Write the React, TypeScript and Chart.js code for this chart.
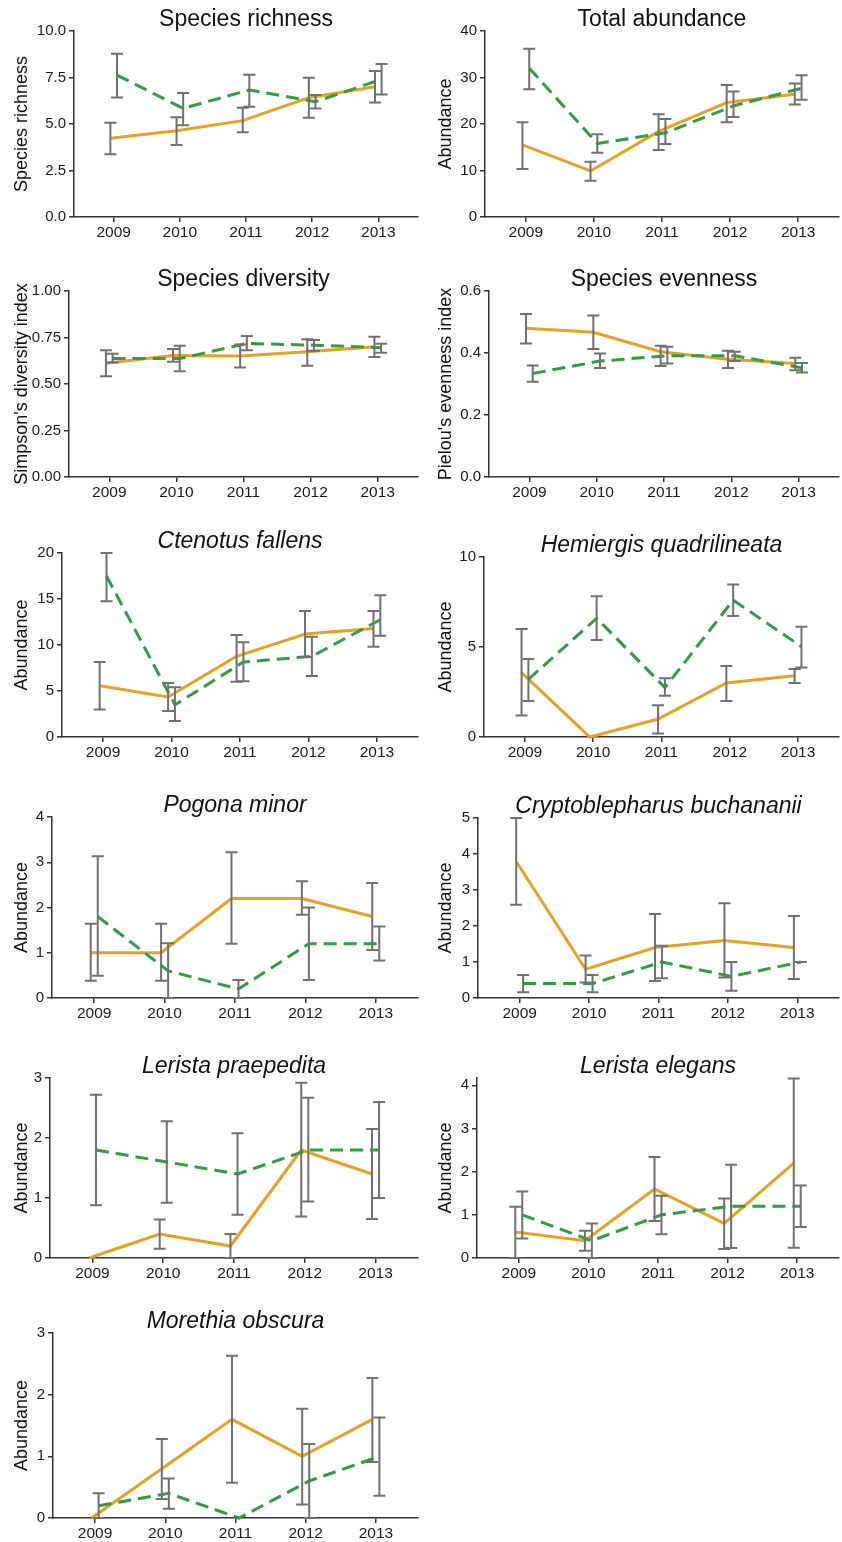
import React, { useEffect, useRef } from "react";
import { Chart, registerables } from "chart.js";

Chart.register(...registerables);
Chart.defaults.font.family = "'Liberation Sans', Arial, Helvetica, sans-serif";
Chart.defaults.color = "#1a1a1a";

// ---------------- DATA ----------------
const years = ["2009", "2010", "2011", "2012", "2013"];

// Species richness
const richnessOrange = [4.23, 4.64, 5.18, 6.42, 7.0];
const richnessOrangeLo = [3.37, 3.87, 4.55, 5.34, 6.16];
const richnessOrangeHi = [5.07, 5.36, 5.88, 7.49, 7.85];
const richnessGreen = [7.63, 5.84, 6.83, 6.2, 7.4];
const richnessGreenLo = [6.43, 4.93, 5.93, 5.84, 6.59];
const richnessGreenHi = [8.78, 6.67, 7.65, 6.56, 8.23];
const richnessTicks = [0, 2.5, 5, 7.5, 10];

// Total abundance
const abundOrange = [15.5, 9.9, 18.4, 24.6, 26.4];
const abundOrangeLo = [10.3, 7.8, 14.4, 20.4, 24.2];
const abundOrangeHi = [20.4, 11.9, 22.1, 28.4, 28.7];
const abundGreen = [32.0, 15.8, 18.1, 23.9, 27.7];
const abundGreenLo = [27.5, 13.8, 15.7, 21.5, 25.2];
const abundGreenHi = [36.2, 17.8, 21.1, 27.0, 30.5];
const abundTicks = [0, 10, 20, 30, 40];

// Species diversity
const divOrange = [0.612, 0.653, 0.65, 0.673, 0.7];
const divOrangeLo = [0.542, 0.619, 0.589, 0.598, 0.645];
const divOrangeHi = [0.682, 0.688, 0.713, 0.741, 0.754];
const divGreen = [0.637, 0.637, 0.718, 0.709, 0.695];
const divGreenLo = [0.616, 0.569, 0.682, 0.679, 0.668];
const divGreenHi = [0.662, 0.706, 0.758, 0.736, 0.716];
const divTicks = [0, 0.25, 0.5, 0.75, 1.0];

// Species evenness
const evenOrange = [0.48, 0.467, 0.404, 0.38, 0.366];
const evenOrangeLo = [0.431, 0.413, 0.358, 0.352, 0.344];
const evenOrangeHi = [0.526, 0.521, 0.423, 0.407, 0.385];
const evenGreen = [0.334, 0.374, 0.391, 0.391, 0.352];
const evenGreenLo = [0.307, 0.352, 0.366, 0.374, 0.337];
const evenGreenHi = [0.36, 0.398, 0.42, 0.404, 0.368];
const evenTicks = [0, 0.2, 0.4, 0.6];

// Ctenotus fallens
const ctenOrange = [5.58, 4.35, 8.77, 11.2, 11.8];
const ctenOrangeLo = [3.0, 2.83, 6.0, 8.7, 9.8];
const ctenOrangeHi = [8.15, 5.87, 11.1, 13.7, 13.7];
const ctenGreen = [17.5, 3.5, 8.15, 8.77, 12.75];
const ctenGreenLo = [14.75, 1.74, 6.05, 6.63, 11.0];
const ctenGreenHi = [20.0, 5.4, 10.3, 10.9, 15.4];
const ctenTicks = [0, 5, 10, 15, 20];

// Hemiergis quadrilineata
const hemiOrange = [3.58, 0, 1.0, 3.0, 3.4];
const hemiOrangeLo = [1.2, null, 0.2, 2.0, 3.0];
const hemiOrangeHi = [6.0, null, 1.77, 3.95, 3.78];
const hemiGreen = [3.2, 6.6, 2.75, 7.6, 5.02];
const hemiGreenLo = [2.0, 5.39, 2.29, 6.72, 3.86];
const hemiGreenHi = [4.34, 7.82, 3.27, 8.47, 6.13];
const hemiTicks = [0, 5, 10];

// Pogona minor
const pogOrange = [1.0, 1.0, 2.2, 2.2, 1.8];
const pogOrangeLo = [0.38, 0.38, 1.2, 1.84, 1.06];
const pogOrangeHi = [1.64, 1.64, 3.22, 2.58, 2.54];
const pogGreen = [1.8, 0.6, 0.2, 1.2, 1.2];
const pogGreenLo = [0.49, 0, 0, 0.4, 0.83];
const pogGreenHi = [3.13, 1.21, 0.4, 2.0, 1.58];
const pogTicks = [0, 1, 2, 3, 4];

// Cryptoblepharus buchananii
const cryOrange = [3.79, 0.8, 1.4, 1.6, 1.4];
const cryOrangeLo = [2.59, 0.43, 0.47, 0.57, 0.53];
const cryOrangeHi = [5.0, 1.18, 2.33, 2.63, 2.28];
const cryGreen = [0.4, 0.4, 1.0, 0.6, 1.0];
const cryGreenLo = [0.16, 0.16, 0.55, 0.2, 1.0];
const cryGreenHi = [0.64, 0.64, 1.45, 1.0, 1.0];
const cryTicks = [0, 1, 2, 3, 4, 5];

// Lerista praepedita
const lpOrange = [0, 0.4, 0.2, 1.8, 1.4];
const lpOrangeLo = [null, 0.155, 0, 0.69, 0.65];
const lpOrangeHi = [null, 0.64, 0.4, 2.92, 2.15];
const lpGreen = [1.8, 1.6, 1.4, 1.8, 1.8];
const lpGreenLo = [0.88, 0.92, 0.72, 0.94, 1.0];
const lpGreenHi = [2.72, 2.28, 2.08, 2.67, 2.6];
const lpTicks = [0, 1, 2, 3];

// Lerista elegans
const leOrange = [0.6, 0.4, 1.6, 0.8, 2.2];
const leOrangeLo = [0, 0.17, 0.86, 0.21, 0.24];
const leOrangeHi = [1.19, 0.63, 2.34, 1.38, 4.16];
const leGreen = [1.0, 0.4, 1.0, 1.2, 1.2];
const leGreenLo = [0.45, 0, 0.55, 0.23, 0.72];
const leGreenHi = [1.54, 0.8, 1.44, 2.16, 1.68];
const leTicks = [0, 1, 2, 3, 4];

// Morethia obscura
const moOrange = [0, 0.8, 1.6, 1.0, 1.6];
const moOrangeLo = [null, 0.31, 0.57, 0.22, 0.91];
const moOrangeHi = [null, 1.28, 2.63, 1.77, 2.27];
const moGreen = [0.2, 0.4, 0, 0.6, 1.0];
const moGreenLo = [0, 0.15, null, 0, 0.36];
const moGreenHi = [0.4, 0.64, null, 1.2, 1.63];
const moTicks = [0, 1, 2, 3];

// ---------------- STYLE / LAYOUT ----------------
const ORANGE = "#E8A020";
const GREEN = "#2E9E3E";
const ERR = "#707070";
const AXIS = "#333333";
const DODGE = 0.05;
const COL_W = 421;
const TOP_OFF = 31;
const BOTTOM_H = 24;
const TITLE_SIZE = 23;

type Panel = {
  title: string;
  italic: boolean;
  yTitle: string;
  ticks: number[];
  dec: number;
  yMax: number;
  o: (number | null)[];
  oLo: (number | null)[];
  oHi: (number | null)[];
  g: (number | null)[];
  gLo: (number | null)[];
  gHi: (number | null)[];
  col: number;
  axisLeft: number;
  axisTop: number;
  axisBottom: number;
};

const panels: Panel[] = [
  { title: "Species richness", italic: false, yTitle: "Species richness", ticks: richnessTicks, dec: 1, yMax: 10,
    o: richnessOrange, oLo: richnessOrangeLo, oHi: richnessOrangeHi, g: richnessGreen, gLo: richnessGreenLo, gHi: richnessGreenHi,
    col: 0, axisLeft: 74, axisTop: 31, axisBottom: 217 },
  { title: "Total abundance", italic: false, yTitle: "Abundance", ticks: abundTicks, dec: 0, yMax: 40,
    o: abundOrange, oLo: abundOrangeLo, oHi: abundOrangeHi, g: abundGreen, gLo: abundGreenLo, gHi: abundGreenHi,
    col: 1, axisLeft: 485, axisTop: 31, axisBottom: 217 },
  { title: "Species diversity", italic: false, yTitle: "Simpson's diversity index", ticks: divTicks, dec: 2, yMax: 1,
    o: divOrange, oLo: divOrangeLo, oHi: divOrangeHi, g: divGreen, gLo: divGreenLo, gHi: divGreenHi,
    col: 0, axisLeft: 69, axisTop: 291, axisBottom: 477 },
  { title: "Species evenness", italic: false, yTitle: "Pielou's evenness index", ticks: evenTicks, dec: 1, yMax: 0.6,
    o: evenOrange, oLo: evenOrangeLo, oHi: evenOrangeHi, g: evenGreen, gLo: evenGreenLo, gHi: evenGreenHi,
    col: 1, axisLeft: 489, axisTop: 291, axisBottom: 477 },
  { title: "Ctenotus fallens", italic: true, yTitle: "Abundance", ticks: ctenTicks, dec: 0, yMax: 20,
    o: ctenOrange, oLo: ctenOrangeLo, oHi: ctenOrangeHi, g: ctenGreen, gLo: ctenGreenLo, gHi: ctenGreenHi,
    col: 0, axisLeft: 62, axisTop: 553, axisBottom: 737 },
  { title: "Hemiergis quadrilineata", italic: true, yTitle: "Abundance", ticks: hemiTicks, dec: 0, yMax: 10,
    o: hemiOrange, oLo: hemiOrangeLo, oHi: hemiOrangeHi, g: hemiGreen, gLo: hemiGreenLo, gHi: hemiGreenHi,
    col: 1, axisLeft: 484, axisTop: 557, axisBottom: 737 },
  { title: "Pogona minor", italic: true, yTitle: "Abundance", ticks: pogTicks, dec: 0, yMax: 4,
    o: pogOrange, oLo: pogOrangeLo, oHi: pogOrangeHi, g: pogGreen, gLo: pogGreenLo, gHi: pogGreenHi,
    col: 0, axisLeft: 52, axisTop: 817, axisBottom: 998 },
  { title: "Cryptoblepharus buchananii", italic: true, yTitle: "Abundance", ticks: cryTicks, dec: 0, yMax: 5,
    o: cryOrange, oLo: cryOrangeLo, oHi: cryOrangeHi, g: cryGreen, gLo: cryGreenLo, gHi: cryGreenHi,
    col: 1, axisLeft: 478, axisTop: 818, axisBottom: 998 },
  { title: "Lerista praepedita", italic: true, yTitle: "Abundance", ticks: lpTicks, dec: 0, yMax: 3,
    o: lpOrange, oLo: lpOrangeLo, oHi: lpOrangeHi, g: lpGreen, gLo: lpGreenLo, gHi: lpGreenHi,
    col: 0, axisLeft: 50, axisTop: 1078, axisBottom: 1258 },
  { title: "Lerista elegans", italic: true, yTitle: "Abundance", ticks: leTicks, dec: 0, yMax: 4.17,
    o: leOrange, oLo: leOrangeLo, oHi: leOrangeHi, g: leGreen, gLo: leGreenLo, gHi: leGreenHi,
    col: 1, axisLeft: 477, axisTop: 1078, axisBottom: 1258 },
  { title: "Morethia obscura", italic: true, yTitle: "Abundance", ticks: moTicks, dec: 0, yMax: 3,
    o: moOrange, oLo: moOrangeLo, oHi: moOrangeHi, g: moGreen, gLo: moGreenLo, gHi: moGreenHi,
    col: 0, axisLeft: 53, axisTop: 1333, axisBottom: 1518 },
];

function makeErrorPlugin(series: { lo: (number | null)[]; hi: (number | null)[]; dx: number }[]) {
  return {
    id: "errbars",
    afterDatasetsDraw(chart: any) {
      const { ctx } = chart;
      const x = chart.scales.x;
      const y = chart.scales.y;
      ctx.save();
      ctx.strokeStyle = ERR;
      ctx.lineWidth = 2;
      ctx.lineCap = "butt";
      series.forEach((s) => {
        s.lo.forEach((lo, i) => {
          const hi = s.hi[i];
          if (lo == null || hi == null) return;
          const px = x.getPixelForValue(i + s.dx);
          const p1 = y.getPixelForValue(lo);
          const p2 = y.getPixelForValue(hi);
          ctx.beginPath();
          ctx.moveTo(px, p1);
          ctx.lineTo(px, p2);
          ctx.moveTo(px - 6, p1);
          ctx.lineTo(px + 6, p1);
          ctx.moveTo(px - 6, p2);
          ctx.lineTo(px + 6, p2);
          ctx.stroke();
        });
      });
      ctx.restore();
    },
  };
}

function PanelChart({ p }: { p: Panel }) {
  const ref = useRef<HTMLCanvasElement>(null);
  const colX = p.col * COL_W;
  const top = p.axisTop - TOP_OFF;
  const height = p.axisBottom - p.axisTop + TOP_OFF + BOTTOM_H;
  const width = COL_W;
  const axisRight = p.col === 0 ? 418 : 839;

  useEffect(() => {
    const canvas = ref.current!;
    const chart = new Chart(canvas, {
      type: "line",
      data: {
        datasets: [
          {
            data: years.map((_, i) => ({ x: i - DODGE, y: p.o[i] as number })),
            borderColor: ORANGE,
            borderWidth: 3,
            pointRadius: 0,
            tension: 0,
            fill: false,
            clip: false as any,
            order: 1,
          },
          {
            data: years.map((_, i) => ({ x: i + DODGE, y: p.g[i] as number })),
            borderColor: GREEN,
            borderWidth: 3,
            borderDash: [13, 7],
            pointRadius: 0,
            tension: 0,
            fill: false,
            clip: false as any,
            order: 0,
          },
        ],
      },
      options: {
        responsive: false,
        animation: false,
        events: [],
        layout: {
          padding: { top: TOP_OFF - TITLE_SIZE, left: 0, right: colX + width - axisRight, bottom: 0 },
        },
        plugins: {
          legend: { display: false },
          tooltip: { enabled: false },
          title: {
            display: true,
            fullSize: false,
            text: p.title,
            color: "#111",
            font: { size: TITLE_SIZE, style: p.italic ? "italic" : "normal", weight: "normal", lineHeight: 1 },
            padding: { top: 0, bottom: 0 },
          },
        },
        scales: {
          x: {
            type: "linear",
            min: -0.6,
            max: 4.6,
            afterBuildTicks: (s: any) => {
              s.ticks = years.map((_, i) => ({ value: i }));
            },
            afterFit: (s: any) => {
              s.height = BOTTOM_H;
            },
            ticks: {
              callback: (v: any) => years[Math.round(Number(v))],
              font: { size: 15.5 },
              color: "#1a1a1a",
              padding: 1,
              maxRotation: 0,
              autoSkip: false,
            },
            grid: { drawOnChartArea: false, drawTicks: true, tickLength: 5, color: AXIS, lineWidth: 1.5 },
            border: { display: true, color: AXIS, width: 1.5 },
          },
          y: {
            type: "linear",
            min: 0,
            max: p.yMax,
            afterBuildTicks: (s: any) => {
              s.ticks = p.ticks.map((v) => ({ value: v }));
            },
            afterFit: (s: any) => {
              s.width = p.axisLeft - colX;
            },
            ticks: {
              callback: (v: any) => Number(v).toFixed(p.dec),
              font: { size: 15 },
              color: "#1a1a1a",
              padding: 3,
              autoSkip: false,
            },
            grid: { drawOnChartArea: false, drawTicks: true, tickLength: 5, color: AXIS, lineWidth: 1.5 },
            border: { display: true, color: AXIS, width: 1.5 },
            title: {
              display: true,
              text: p.yTitle,
              color: "#111",
              font: { size: 18, lineHeight: 1.2 },
              padding: { top: p.col === 0 ? 11 : 14, bottom: 0 },
            },
          },
        },
      },
      plugins: [
        makeErrorPlugin([
          { lo: p.oLo, hi: p.oHi, dx: -DODGE },
          { lo: p.gLo, hi: p.gHi, dx: DODGE },
        ]),
      ],
    } as any);
    return () => chart.destroy();
  }, []);

  return (
    <canvas
      ref={ref}
      width={width}
      height={height}
      style={{ position: "absolute", left: colX, top, width, height }}
    />
  );
}

export default function App() {
  return (
    <div style={{ position: "absolute", left: 0, top: 0, width: 842, height: 1542, background: "#fff" }}>
      {panels.map((p, i) => (
        <PanelChart key={i} p={p} />
      ))}
    </div>
  );
}
